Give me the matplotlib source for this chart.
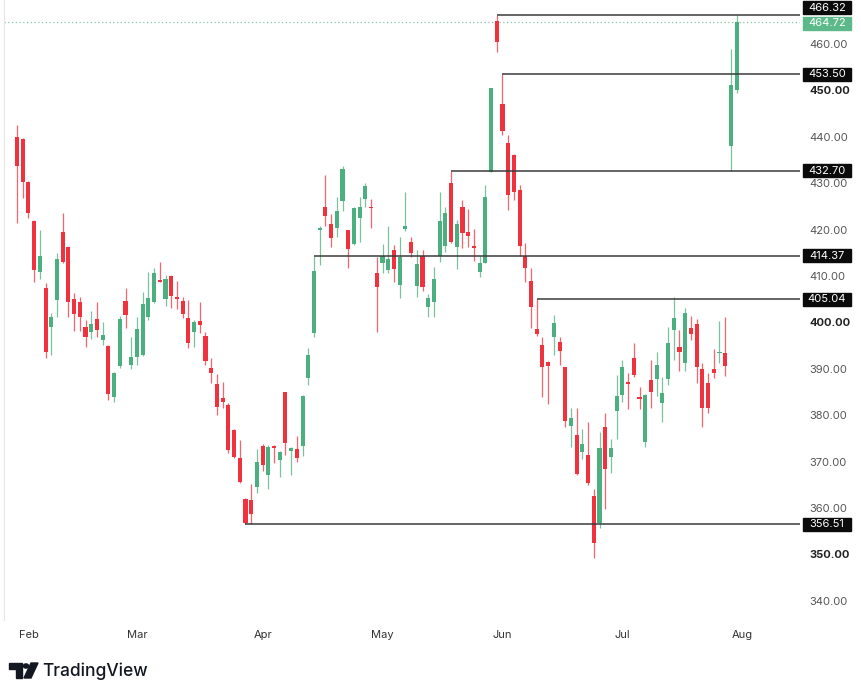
import numpy as np
import matplotlib.pyplot as plt
from matplotlib.patches import Rectangle, Polygon, Circle

plt.rcParams['font.family'] = ['Inter', 'DejaVu Sans']

# daily OHLC, one value per bar (TradingView style, bars without date gaps)
opens = [440.0, 439.5, 430.3, 421.9, 410.9, 407.5, 399.1, 404.8, 419.5, 416.2,
         405.0, 404.5, 399.1, 398.0, 400.7, 396.1, 395.0, 384.0, 390.5, 404.7,
         390.8, 392.6, 393.0, 401.2, 404.5, 409.1, 405.0, 410.0, 405.5, 404.6,
         400.9, 398.0, 400.3, 397.1, 390.1, 386.7, 383.8, 382.2, 376.8, 370.7,
         361.9, 361.7, 364.5, 373.4, 367.1, 373.4, 370.3, 384.9, 372.3, 372.8,
         373.4, 388.0, 397.8, 419.9, 424.8, 421.2, 420.3, 426.2, 419.9, 417.0,
         422.4, 426.6, 424.8, 410.7, 412.9, 411.3, 415.5, 408.1, 420.1, 417.4,
         407.8, 414.3, 403.3, 404.5, 414.3, 416.5, 430.0, 416.3, 424.8, 419.5,
         416.5, 410.9, 412.9, 432.5, 465.0, 447.1, 438.6, 436.1, 428.5, 414.3,
         409.0, 398.5, 395.1, 391.5, 396.8, 395.8, 390.3, 377.7, 375.7, 372.1,
         371.4, 362.6, 356.8, 377.5, 370.9, 380.8, 384.4, 386.9, 392.3, 384.0,
         374.3, 387.6, 387.7, 382.7, 387.7, 398.4, 394.8, 391.3, 398.7, 399.7,
         389.9, 386.9, 389.9, 393.3, 393.5, 438.0, 450.1]
highs = [442.5, 439.8, 430.5, 422.0, 419.9, 408.4, 402.0, 414.9, 423.6, 416.4,
         406.3, 405.4, 400.5, 402.5, 404.5, 400.0, 395.2, 389.3, 401.4, 407.5,
         396.8, 401.1, 406.6, 410.9, 411.7, 413.0, 410.2, 410.3, 408.9, 405.5,
         404.8, 400.5, 404.5, 398.0, 392.4, 388.9, 387.2, 382.6, 377.0, 374.6,
         362.1, 365.2, 372.7, 373.8, 373.6, 373.6, 372.3, 385.0, 373.2, 375.5,
         384.4, 394.5, 414.37, 420.8, 431.8, 423.4, 427.1, 433.7, 420.0, 424.9,
         427.1, 430.0, 426.7, 414.2, 417.0, 420.8, 416.7, 418.5, 428.0, 418.5,
         415.5, 415.5, 406.1, 411.9, 428.2, 424.9, 432.7, 422.1, 426.4, 424.4,
         420.1, 414.3, 429.6, 450.6, 466.32, 453.5, 440.4, 436.2, 429.6, 417.2,
         411.7, 405.04, 396.8, 391.6, 401.7, 396.8, 390.4, 381.5, 381.5, 377.0,
         378.6, 364.0, 376.4, 380.4, 374.8, 388.7, 392.0, 389.0, 395.5, 386.1,
         384.5, 391.9, 393.7, 388.2, 398.9, 405.5, 398.4, 403.0, 401.4, 400.7,
         391.2, 389.0, 394.2, 400.4, 401.2, 458.9, 466.3]
lows = [421.4, 426.8, 422.5, 408.6, 409.3, 392.4, 393.0, 401.1, 412.7, 401.1,
        398.2, 398.2, 394.6, 396.4, 396.8, 395.1, 383.3, 382.8, 390.1, 398.7,
        389.9, 390.8, 392.8, 400.5, 404.1, 408.6, 403.5, 403.0, 402.8, 401.0,
        394.4, 394.8, 397.8, 390.8, 387.0, 380.0, 381.6, 371.8, 370.7, 365.3,
        356.51, 356.6, 363.2, 368.0, 364.2, 369.6, 366.7, 371.4, 367.1, 370.0,
        371.2, 386.5, 396.9, 412.4, 420.8, 416.3, 418.3, 423.9, 411.7, 416.7,
        417.4, 424.9, 420.4, 398.0, 410.6, 410.7, 408.8, 405.2, 419.8, 414.2,
        405.5, 406.8, 401.1, 401.2, 413.1, 415.2, 417.2, 411.4, 416.0, 416.2,
        413.3, 409.7, 412.7, 432.4, 458.3, 440.4, 424.2, 426.4, 414.3, 408.6,
        398.7, 397.0, 384.0, 382.4, 393.0, 390.8, 377.4, 373.2, 367.1, 370.5,
        365.0, 349.2, 355.6, 359.7, 367.5, 374.8, 382.9, 381.3, 388.3, 381.3,
        373.2, 381.5, 384.1, 378.6, 386.5, 392.0, 389.6, 389.6, 396.2, 387.0,
        377.4, 380.5, 388.0, 391.3, 388.4, 432.7, 449.5]
closes = [433.6, 430.3, 423.5, 411.3, 414.3, 393.6, 401.2, 413.6, 413.1, 404.3,
          401.8, 401.2, 396.8, 399.6, 398.4, 397.2, 384.5, 389.0, 400.7, 401.6,
          392.6, 398.5, 404.0, 405.2, 410.7, 408.8, 409.3, 405.7, 405.0, 401.8,
          395.5, 400.0, 399.4, 391.7, 389.0, 381.7, 382.9, 372.6, 370.9, 365.7,
          356.8, 358.8, 370.0, 369.3, 373.2, 372.9, 372.1, 374.1, 373.0, 370.7,
          384.2, 393.0, 411.1, 420.4, 422.9, 418.1, 424.0, 433.0, 415.8, 424.6,
          424.8, 429.4, 424.6, 407.7, 414.3, 413.6, 411.4, 414.0, 420.8, 415.0,
          412.6, 407.7, 405.2, 409.3, 421.9, 423.6, 417.4, 421.2, 419.2, 418.6,
          416.0, 412.7, 427.0, 450.5, 460.5, 441.3, 427.5, 428.0, 416.5, 411.7,
          403.4, 397.5, 390.3, 390.6, 399.8, 393.9, 378.8, 379.3, 367.3, 373.8,
          365.3, 352.5, 372.9, 368.3, 372.9, 384.1, 390.3, 386.7, 388.7, 383.4,
          384.4, 385.1, 390.8, 384.7, 395.5, 401.0, 393.7, 402.1, 397.6, 390.3,
          381.5, 381.5, 389.0, 393.4, 390.5, 451.2, 464.72]

# horizontal levels drawn on the chart and the bar where each one starts
levels = [466.32, 453.50, 432.70, 414.37, 405.04, 356.51]
level_start = [84, 85, 76, 52, 91, 40]
last_price = closes[-1]

month_labels = ['Feb', 'Mar', 'Apr', 'May', 'Jun', 'Jul', 'Aug']
month_bars = [2, 21, 43, 64, 85, 106, 127]
price_ticks = [340, 350, 360, 370, 380, 390, 400, 410, 420, 430, 440, 450, 460]
bold_ticks = [350, 400, 450]

UP = '#4CAF7F'
DOWN = '#F0323F'
W, H = 861, 694

fig = plt.figure(figsize=(W / 100, H / 100), dpi=100)
ax = fig.add_axes([4 / W, (H - 620) / H, 796 / W, 620 / H])

o = np.array(opens)
c = np.array(closes)
hi = np.array(highs)
lo = np.array(lows)
x = np.arange(len(o))
cols = np.where(c >= o, UP, DOWN)

ax.vlines(x, lo, hi, colors=cols, lw=0.9, alpha=0.75, zorder=2)
body_h = np.maximum(np.abs(c - o), 0.35)
ax.bar(x, body_h, bottom=np.minimum(o, c), width=0.72, color=cols,
       linewidth=0, zorder=3)

ax.axhline(last_price, color=UP, lw=0.9, ls=(0, (1, 2)), alpha=0.7, zorder=1)

ax.set_xlim(-2.28, 137.1)
ax.set_ylim(335.86, 469.48)

for lev, s in zip(levels, level_start):
    ax.hlines(lev, s, 137.1, colors='#3a3a3a', lw=1.1, zorder=4)

for sp in ['top', 'right', 'bottom']:
    ax.spines[sp].set_visible(False)
ax.spines['left'].set_color('#e6e6e6')

ax.yaxis.tick_right()
ax.set_yticks(price_ticks)
ax.set_yticklabels([f'{t:.2f}' for t in price_ticks])
ax.tick_params(axis='y', length=0, pad=7, labelsize=8, labelcolor='#555555')
for lab, t in zip(ax.get_yticklabels(), price_ticks):
    if t in bold_ticks:
        lab.set_fontweight('bold')
        lab.set_color('#222222')

ax.set_xticks(month_bars)
ax.set_xticklabels(month_labels)
ax.tick_params(axis='x', length=0, pad=7, labelsize=8, labelcolor='#333333')

# price labels in the scale
box_x = 803


def price_box(price, color, shift=0):
    yd = ax.transData.transform((0, price))[1] + shift
    yf = yd / H
    fig.add_artist(Rectangle((box_x / W, yf - 6.5 / H), 48 / W, 13 / H,
                             transform=fig.transFigure, color=color, zorder=5))
    fig.text((box_x + 24) / W, yf, f'{price:.2f}', color='white', fontsize=8,
             ha='center', va='center', zorder=6)


for lev in levels:
    price_box(lev, '#0b0b0b', shift=7 if lev == 466.32 else 0)
price_box(last_price, '#5DB98A', shift=-1)

# TradingView logo
def px(xp, yp):
    return (xp / W, 1 - yp / H)


logo = '#131722'
fig.add_artist(Polygon([px(9, 663), px(22, 663), px(22, 678), px(16, 678),
                        px(16, 669), px(9, 669)], closed=True,
                       transform=fig.transFigure, color=logo))
fig.add_artist(Circle(px(26, 666), 2.6 / W, transform=fig.transFigure, color=logo))
fig.add_artist(Polygon([px(31, 663), px(38, 663), px(31, 678), px(24, 678)],
                       closed=True, transform=fig.transFigure, color=logo))
fig.text(42 / W, 1 - 671 / H, 'TradingView', fontsize=12.5, color=logo,
         fontweight='medium', va='center', ha='left')

fig.savefig('out.png', dpi=100, facecolor='white')
